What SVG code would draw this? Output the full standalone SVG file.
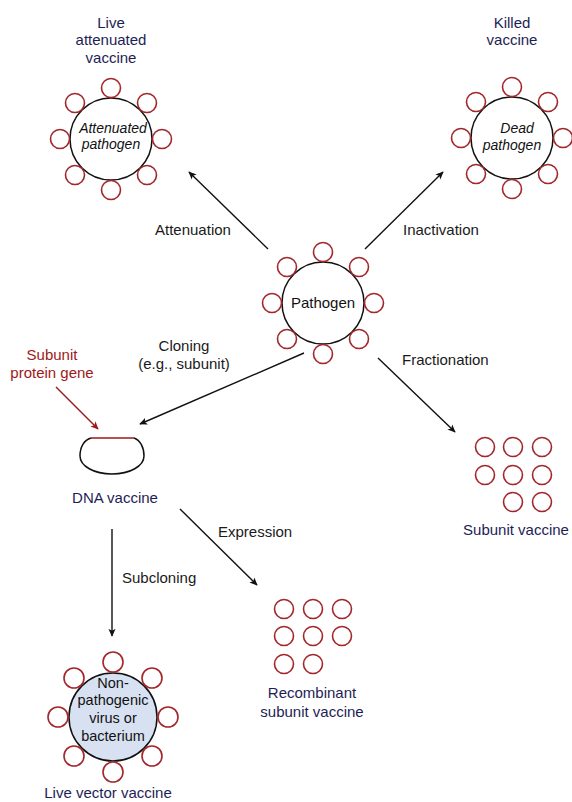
<svg xmlns="http://www.w3.org/2000/svg" xmlns:xlink="http://www.w3.org/1999/xlink" width="572" height="802" viewBox="0 0 572 802">
<style>
text{font-family:"Liberation Sans",Arial,sans-serif;font-size:15px;text-anchor:middle}
.t{fill:#1e1e55}
.l{fill:#1a1a1a;text-anchor:start}
.i{font-style:italic;fill:#111;font-size:14px}
.n{fill:#111;font-size:14.5px}
.r{fill:#a01818}
.big{fill:#fff;stroke:#111;stroke-width:1.5}
.sc{fill:#fff;stroke:#a3262a;stroke-width:1.6}
.ar{stroke:#111;stroke-width:1.4;fill:none}
</style>
<defs>
<marker id="ah" viewBox="0 0 10 10" refX="9" refY="5" markerWidth="8" markerHeight="8" orient="auto" markerUnits="userSpaceOnUse">
<path d="M0,0.5 L10,5 L0,9.5 L2.5,5 Z" fill="#111"/>
</marker>
<marker id="ahr" viewBox="0 0 10 10" refX="9" refY="5" markerWidth="8" markerHeight="8" orient="auto" markerUnits="userSpaceOnUse">
<path d="M0,0.5 L10,5 L0,9.5 L2.5,5 Z" fill="#a01818"/>
</marker>
<circle id="s" r="9.5" class="sc"/>
<circle id="s2" r="10" class="sc"/>
</defs>
<rect width="572" height="802" fill="#fff"/>

<g id="connectors">
<line class="ar" x1="268" y1="249" x2="189" y2="172" marker-end="url(#ah)"/>
<line class="ar" x1="365" y1="249" x2="443" y2="172" marker-end="url(#ah)"/>
<line class="ar" x1="304" y1="353" x2="140" y2="424" marker-end="url(#ah)"/>
<line class="ar" x1="378" y1="358" x2="455" y2="432" marker-end="url(#ah)"/>
<line class="ar" x1="180" y1="509" x2="257" y2="585" marker-end="url(#ah)"/>
<line class="ar" x1="112" y1="529" x2="112" y2="636" marker-end="url(#ah)"/>
<line x1="56" y1="387" x2="98" y2="429" stroke="#a01818" stroke-width="1.4" marker-end="url(#ahr)"/>
<text class="l" x="155" y="235">Attenuation</text>
<text class="l" x="403" y="235">Inactivation</text>
<text x="184" y="351" fill="#1a1a1a">Cloning</text>
<text x="184" y="369" fill="#1a1a1a">(e.g., subunit)</text>
<text class="l" x="402" y="365">Fractionation</text>
<text class="l" x="218" y="537">Expression</text>
<text class="l" x="122" y="583">Subcloning</text>
</g>

<g id="live-attenuated">
<text class="t" x="111" y="28">Live</text>
<text class="t" x="111" y="45">attenuated</text>
<text class="t" x="111" y="63">vaccine</text>
<circle class="big" cx="111" cy="139" r="41"/>
<use href="#s" x="111" y="88"/><use href="#s" x="147" y="103"/><use href="#s" x="162" y="139"/><use href="#s" x="147" y="175"/>
<use href="#s" x="111" y="190"/><use href="#s" x="75" y="175"/><use href="#s" x="60" y="139"/><use href="#s" x="75" y="103"/>
<text class="i" x="113" y="133">Attenuated</text>
<text class="i" x="111" y="149">pathogen</text>
</g>

<g id="killed">
<text class="t" x="512" y="28">Killed</text>
<text class="t" x="512" y="45">vaccine</text>
<circle class="big" cx="512" cy="138" r="41"/>
<use href="#s" x="512" y="87"/><use href="#s" x="548" y="102"/><use href="#s" x="563" y="138"/><use href="#s" x="548" y="174"/>
<use href="#s" x="512" y="189"/><use href="#s" x="476" y="174"/><use href="#s" x="461" y="138"/><use href="#s" x="476" y="102"/>
<text class="i" x="517" y="133">Dead</text>
<text class="i" x="512" y="150">pathogen</text>
</g>

<g id="pathogen">
<circle class="big" cx="323" cy="303" r="41"/>
<use href="#s" x="323" y="252"/><use href="#s" x="359" y="267"/><use href="#s" x="374" y="303"/><use href="#s" x="359" y="339"/>
<use href="#s" x="323" y="354"/><use href="#s" x="287" y="339"/><use href="#s" x="272" y="303"/><use href="#s" x="287" y="267"/>
<text x="323" y="308" fill="#111">Pathogen</text>
</g>

<g id="subunit-gene">
<text class="r" x="52" y="360">Subunit</text>
<text class="r" x="52" y="378">protein gene</text>
</g>

<g id="dna-vaccine">
<path d="M91,438 C84,440 80,447 80,456 C80,466 94,474 112,474 C130,474 144,466 144,456 C144,447 140,440 134,438" fill="none" stroke="#111" stroke-width="1.5"/>
<line x1="91" y1="438" x2="134" y2="438" stroke="#a01818" stroke-width="1.5"/>
<text class="t" x="115" y="503">DNA vaccine</text>
</g>

<g id="subunit-vaccine">
<use href="#s" x="485" y="447"/><use href="#s" x="513" y="447"/><use href="#s" x="542" y="447"/>
<use href="#s" x="485" y="475"/><use href="#s" x="513" y="475"/><use href="#s" x="542" y="475"/>
<use href="#s" x="513" y="502"/><use href="#s" x="542" y="502"/>
<text class="t" x="516" y="535">Subunit vaccine</text>
</g>

<g id="recombinant">
<use href="#s" x="284" y="609"/><use href="#s" x="313" y="609"/><use href="#s" x="342" y="609"/>
<use href="#s" x="284" y="636"/><use href="#s" x="313" y="636"/><use href="#s" x="342" y="636"/>
<use href="#s" x="284" y="664"/><use href="#s" x="313" y="664"/>
<text class="t" x="312" y="698">Recombinant</text>
<text class="t" x="312" y="717">subunit vaccine</text>
</g>

<g id="live-vector">
<circle cx="113" cy="717" r="44" fill="#d8e1f1" stroke="#111" stroke-width="1.5"/>
<use href="#s2" x="113" y="662"/><use href="#s2" x="152" y="678"/><use href="#s2" x="168" y="717"/><use href="#s2" x="152" y="756"/>
<use href="#s2" x="113" y="772"/><use href="#s2" x="74" y="756"/><use href="#s2" x="58" y="717"/><use href="#s2" x="74" y="678"/>
<text class="n" x="113" y="688">Non-</text>
<text class="n" x="113" y="705">pathogenic</text>
<text class="n" x="113" y="723">virus or</text>
<text class="n" x="113" y="741">bacterium</text>
<text class="t" x="108" y="798">Live vector vaccine</text>
</g>
</svg>
